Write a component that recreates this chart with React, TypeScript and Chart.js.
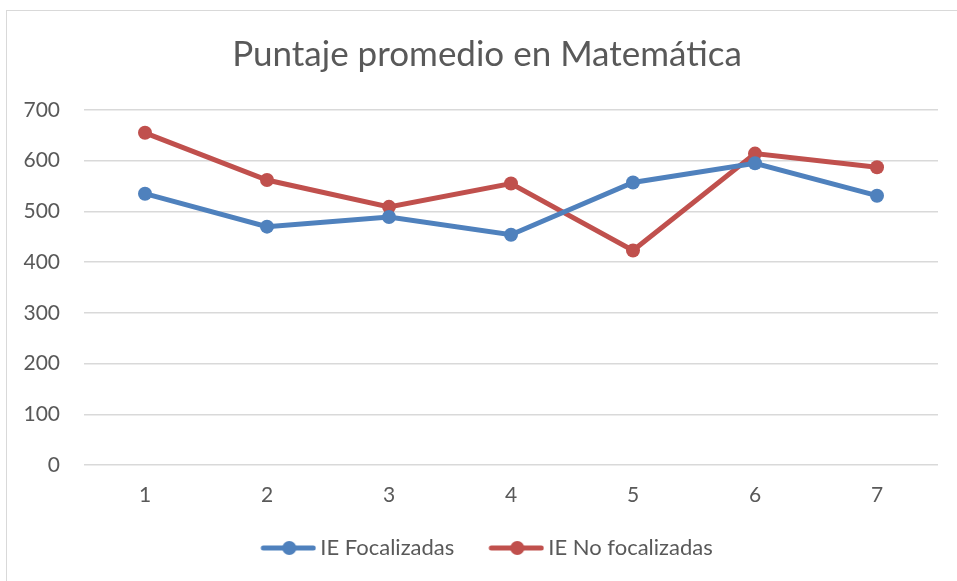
import React, { useEffect, useRef } from "react";
import { Chart, registerables } from "chart.js";

Chart.register(...registerables);

const TITLE = "Puntaje promedio en Matemática";
const categories = ["1", "2", "3", "4", "5", "6", "7"];
const focalizadas = [535, 470, 489, 454, 557, 595, 531];
const noFocalizadas = [655, 562, 509, 555, 423, 614, 587];
const yTicks = [0, 100, 200, 300, 400, 500, 600, 700];

const BLUE = "#4F81BD";
const RED = "#C0504D";
const TEXT = "#595959";
const GRID = "#D9D9D9";
const FONT = "Lato";

function legendImage(color: string): HTMLCanvasElement {
  const c = document.createElement("canvas");
  c.width = 62;
  c.height = 16;
  const ctx = c.getContext("2d")!;
  ctx.strokeStyle = color;
  ctx.lineWidth = 5;
  ctx.lineCap = "round";
  ctx.beginPath();
  ctx.moveTo(9, 8);
  ctx.lineTo(59, 8);
  ctx.stroke();
  ctx.fillStyle = color;
  ctx.beginPath();
  ctx.arc(35, 8, 7, 0, Math.PI * 2);
  ctx.fill();
  return c;
}

const shiftBlocks = {
  id: "shiftBlocks",
  afterLayout(chart: any) {
    if (chart.titleBlock) chart.titleBlock.left += 36;
    if (chart.legend) chart.legend.left += 36;
  },
};

export default function App() {
  const ref = useRef<HTMLCanvasElement>(null);

  useEffect(() => {
    document.body.style.margin = "0";
    const imgs = [legendImage(BLUE), legendImage(RED)];
    const chart = new Chart(ref.current!, {
      type: "line",
      plugins: [shiftBlocks],
      data: {
        labels: categories,
        datasets: [
          {
            label: "IE Focalizadas",
            data: focalizadas,
            borderColor: BLUE,
            backgroundColor: BLUE,
            borderWidth: 5,
            pointRadius: 7,
            pointHoverRadius: 7,
            pointBorderWidth: 0,
            tension: 0,
          },
          {
            label: "IE No focalizadas",
            data: noFocalizadas,
            borderColor: RED,
            backgroundColor: RED,
            borderWidth: 5,
            pointRadius: 7,
            pointHoverRadius: 7,
            pointBorderWidth: 0,
            tension: 0,
          },
        ],
      },
      options: {
        responsive: false,
        animation: false,
        layout: { padding: { left: 0, right: 19, top: 0, bottom: 12 } },
        plugins: {
          tooltip: { enabled: false },
          title: {
            display: true,
            text: TITLE,
            color: TEXT,
            font: { family: FONT, size: 35, weight: "normal", lineHeight: 1.2 },
            padding: { top: 34, bottom: 34 },
          },
          legend: {
            position: "bottom",
            labels: {
              color: TEXT,
              font: { family: FONT, size: 22 },
              usePointStyle: true,
              pointStyleWidth: 48,
              boxHeight: 16,
              padding: 35,
              generateLabels: (ch: any) =>
                ch.data.datasets.map((ds: any, i: number) => ({
                  text: ds.label,
                  fillStyle: ds.borderColor,
                  strokeStyle: ds.borderColor,
                  fontColor: TEXT,
                  lineWidth: 0,
                  pointStyle: imgs[i],
                  datasetIndex: i,
                  hidden: false,
                })),
            },
          },
        },
        scales: {
          x: {
            offset: true,
            grid: { display: false, drawTicks: false },
            border: { display: false },
            ticks: { color: TEXT, font: { family: FONT, size: 21 }, padding: 18 },
            afterFit: (s: any) => {
              s.height = 37;
            },
          },
          y: {
            min: 0,
            max: 700,
            afterBuildTicks: (s: any) => {
              s.ticks = yTicks.map((v) => ({ value: v }));
            },
            grid: { color: GRID, lineWidth: 1.5, drawTicks: false },
            border: { display: false },
            ticks: { color: TEXT, font: { family: FONT, size: 21 }, padding: 24 },
            afterFit: (s: any) => {
              s.width = 84;
            },
          },
        },
      },
    });
    return () => chart.destroy();
  }, []);

  return (
    <div style={{ position: "fixed", left: 0, top: 0, width: 957, height: 581, overflow: "hidden", background: "#fff" }}>
      <div
        style={{
          position: "absolute",
          left: 6,
          top: 10,
          width: 970,
          height: 600,
          border: "1.5px solid #D9D9D9",
          boxSizing: "border-box",
        }}
      />
      <canvas ref={ref} width={957} height={581} style={{ position: "absolute", left: 0, top: 0 }} />
    </div>
  );
}
